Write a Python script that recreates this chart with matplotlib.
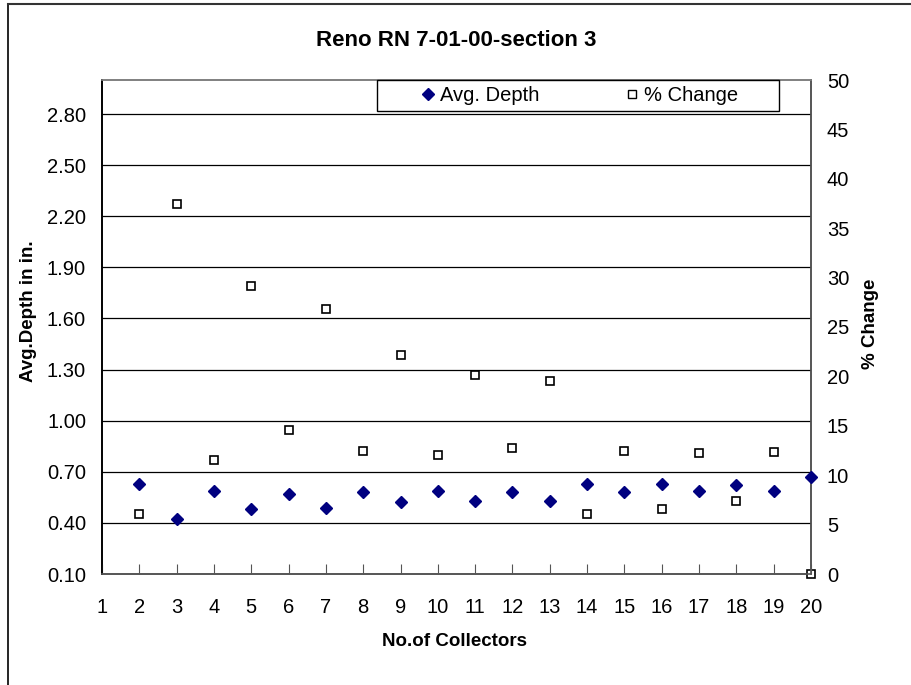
import numpy as np
import matplotlib
matplotlib.use("Agg")
import matplotlib.pyplot as plt
from matplotlib.lines import Line2D
from matplotlib.patches import Rectangle

# --------------------------------------------------------------
# Data
# --------------------------------------------------------------
collectors = [2, 3, 4, 5, 6, 7, 8, 9, 10, 11, 12, 13, 14, 15, 16, 17, 18, 19, 20]
avg_depth = [0.63, 0.42, 0.59, 0.48, 0.57, 0.49, 0.58, 0.52, 0.59, 0.53,
             0.58, 0.53, 0.63, 0.58, 0.63, 0.59, 0.62, 0.59, 0.67]
pct_change = [6.1, 37.4, 11.5, 29.2, 14.6, 26.8, 12.5, 22.2, 12.0, 20.1,
              12.8, 19.5, 6.1, 12.5, 6.6, 12.2, 7.4, 12.3, 0.0]

left_ticks = [0.10, 0.40, 0.70, 1.00, 1.30, 1.60, 1.90, 2.20, 2.50, 2.80]
right_ticks = list(range(0, 55, 5))
x_ticks = list(range(1, 21))

# --------------------------------------------------------------
# Plot
# --------------------------------------------------------------
plt.rcParams["font.family"] = ["Liberation Sans", "DejaVu Sans"]
plt.rcParams["font.size"] = 14.5

W, H = 912, 685
fig = plt.figure(figsize=(W / 100, H / 100), dpi=100)
ax = fig.add_axes([102 / W, 1 - 574 / H, (811 - 102) / W, (574 - 80) / H])
ax2 = ax.twinx()

ax.set_xlim(1, 20)
ax.set_ylim(0.10, 3.00)
ax2.set_ylim(0, 50)

ax.set_yticks(left_ticks)
ax.set_yticklabels([f"{v:.2f}" for v in left_ticks])
ax2.set_yticks(right_ticks)
ax.set_xticks(x_ticks)

# horizontal gridlines follow the left axis
for v in left_ticks[1:]:
    ax.axhline(v, color="black", lw=0.9, zorder=1)

ax.tick_params(axis="x", direction="in", length=7, pad=17, color="#555555")
ax.tick_params(axis="y", length=0, pad=11.5)
ax2.tick_params(axis="y", length=0, pad=11.5)

for a in (ax, ax2):
    a.spines["top"].set_color("#808080")
    a.spines["bottom"].set_color("#555555")
    a.spines["right"].set_color("#555555")
    a.spines["left"].set_color("black")
    for s in a.spines.values():
        s.set_linewidth(1.2)

ax2.plot(collectors, pct_change, "s", ms=6, mfc="white", mec="black",
         mew=1.2, clip_on=False, zorder=3)
ax.set_zorder(ax2.get_zorder() + 1)
ax.patch.set_visible(False)
ax.plot(collectors, avg_depth, "D", ms=6.5, color="#000080", clip_on=False, zorder=4)

pw, ph = 811 - 102, 574 - 80
ax.set_xlabel("No.of Collectors", fontweight="bold", fontsize=13.5)
ax.xaxis.set_label_coords((455 - 102) / pw, -(633 - 574) / ph)
ax.set_ylabel("Avg.Depth in in.", fontweight="bold", fontsize=13.5)
ax.yaxis.set_label_coords(-(102 - 37) / pw, (574 - 311) / ph)
ax2.set_ylabel("% Change", fontweight="bold", fontsize=13.5)
ax2.yaxis.set_label_coords((862 - 102) / pw, (574 - 324) / ph)

fig.text(0.5, 1 - 40 / H, "Reno RN 7-01-00-section 3", ha="center", va="center",
         fontsize=16, fontweight="bold")

# legend box
fig.add_artist(Rectangle((377 / W, 1 - 111 / H), (779 - 377) / W, 31 / H,
                         transform=fig.transFigure, facecolor="white",
                         edgecolor="black", lw=1.0, zorder=5))
handles = [
    Line2D([], [], ls="none", marker="D", ms=6, color="#000080"),
    Line2D([], [], ls="none", marker="s", ms=5.5, mfc="white", mec="black", mew=1),
]
leg = fig.legend(handles, ["Avg. Depth", "% Change"], ncol=2,
                 bbox_to_anchor=(420 / W, 1 - 95.5 / H), loc="center left",
                 frameon=False, borderaxespad=0, borderpad=0,
                 handlelength=0.8, handletextpad=0.2, columnspacing=4.2,
                 fontsize=14.5)
leg.set_zorder(6)

# outer chart border (cropped on right and bottom)
fig.add_artist(Line2D([8 / W, 8 / W], [0, 1 - 4 / H], color="black", lw=1.2,
                      transform=fig.transFigure))
fig.add_artist(Line2D([8 / W, 1], [1 - 4 / H, 1 - 4 / H], color="#333333", lw=1.5,
                      transform=fig.transFigure))

fig.savefig("out.png", dpi=100)
